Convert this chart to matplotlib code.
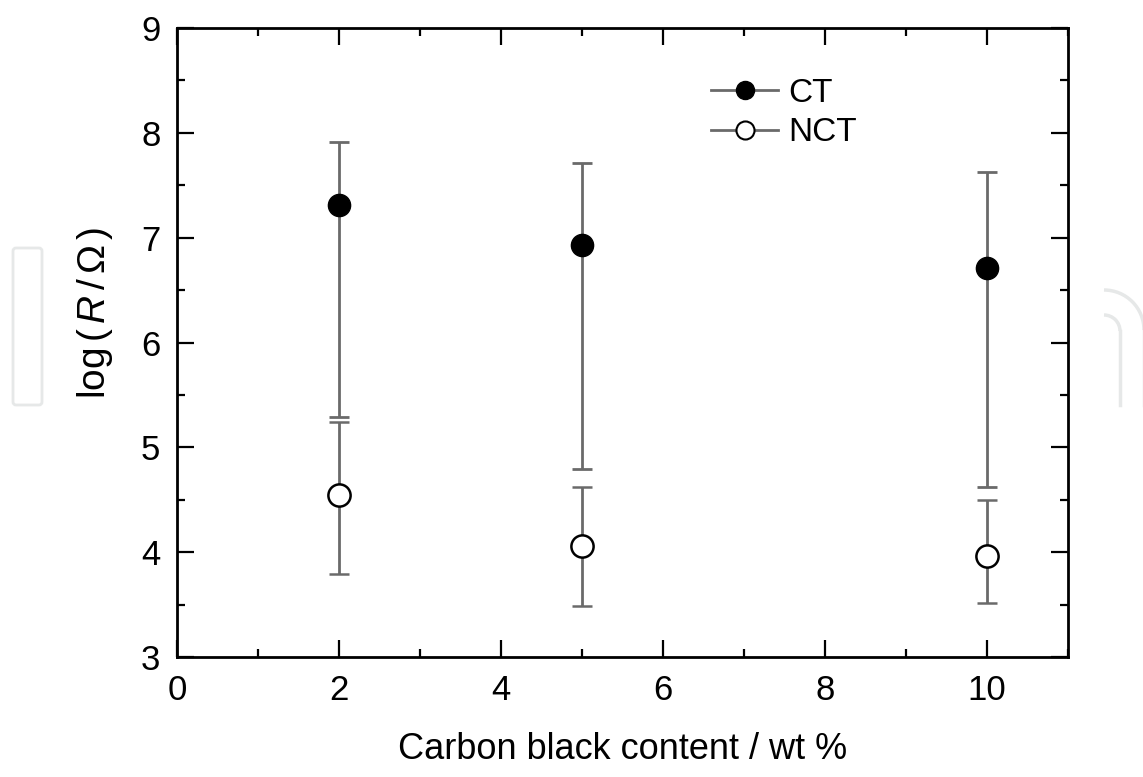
# log(R/Ohm) vs carbon black content, CT and NCT with error bars

import matplotlib
matplotlib.use('Agg')
import matplotlib.pyplot as plt
from matplotlib.patches import FancyBboxPatch, Arc
from matplotlib.ticker import MultipleLocator

plt.rcParams['font.family'] = ['Liberation Sans', 'DejaVu Sans']
plt.rcParams['mathtext.fontset'] = 'custom'
plt.rcParams['mathtext.it'] = 'Liberation Sans:italic'
plt.rcParams['mathtext.rm'] = 'Liberation Sans'

content = [2, 5, 10]

ct_mean = [7.31, 6.93, 6.71]
ct_upper = [7.91, 7.71, 7.63]
ct_lower = [5.29, 4.79, 4.62]

nct_mean = [4.55, 4.06, 3.96]
nct_upper = [5.24, 4.62, 4.50]
nct_lower = [3.79, 3.49, 3.52]


def asym(mean, lower, upper):
    lo = [m - l for m, l in zip(mean, lower)]
    hi = [u - m for m, u in zip(mean, upper)]
    return [lo, hi]


fig = plt.figure(figsize=(11.43, 7.77), dpi=100)

# faint watermark shapes behind everything, in pixel coords
bg = fig.add_axes([0, 0, 1, 1], zorder=-1)
bg.set_xlim(0, 1143)
bg.set_ylim(777, 0)
bg.axis('off')
wm = '#e6e8e8'
bg.add_patch(FancyBboxPatch((13, 248), 29, 157, boxstyle='round,pad=0,rounding_size=3',
                            fill=False, ec=wm, lw=2))
bg.add_patch(Arc((1104, 330), 80, 80, theta1=270, theta2=360, ec=wm, lw=2.5))
bg.plot([1144, 1144], [330, 405], color=wm, lw=2.5)
bg.add_patch(Arc((1104, 331), 32, 32, theta1=270, theta2=360, ec=wm, lw=2.5))
bg.plot([1120, 1120], [331, 405], color=wm, lw=2.5)

ax = fig.add_axes([0.1549, 0.1544, 0.7795, 0.8096])

bar_color = '#6a6a6a'
ax.errorbar(content, ct_mean, yerr=asym(ct_mean, ct_lower, ct_upper),
            fmt='o', color='black', ms=16, ecolor=bar_color, elinewidth=2,
            capsize=7, capthick=2, zorder=3)
ax.errorbar(content, nct_mean, yerr=asym(nct_mean, nct_lower, nct_upper),
            fmt='o', mfc='white', mec='black', mew=1.8, ms=16, ecolor=bar_color,
            elinewidth=2, capsize=7, capthick=2, zorder=3)

# legend handles: line with marker in the middle
h_ct, = ax.plot([], [], '-o', color=bar_color, lw=2, mfc='black', mec='black', ms=13)
h_nct, = ax.plot([], [], '-o', color=bar_color, lw=2, mfc='white', mec='black', mew=1.5, ms=13)
ax.legend([h_ct, h_nct], ['CT', 'NCT'], loc='upper left', bbox_to_anchor=(0.581, 0.947),
          frameon=False, fontsize=24, handlelength=2.0, handletextpad=0.3,
          labelspacing=0.25, borderpad=0)

ax.set_xlim(0, 11)
ax.set_ylim(3, 9)
ax.xaxis.set_major_locator(MultipleLocator(2))
ax.xaxis.set_minor_locator(MultipleLocator(1))
ax.yaxis.set_major_locator(MultipleLocator(1))
ax.yaxis.set_minor_locator(MultipleLocator(0.5))
ax.tick_params(which='both', direction='in', top=True, right=True, width=1.6)
ax.tick_params(which='major', length=12, labelsize=25)
ax.tick_params(which='minor', length=6)
ax.tick_params(axis='x', pad=12)
ax.tick_params(axis='y', pad=12)
for s in ax.spines.values():
    s.set_linewidth(2)

ax.set_xlabel('Carbon black content / wt %', fontsize=26, labelpad=18)
ax.set_ylabel(r'log$\,$($\,R\,$/$\,\Omega\,$)', fontsize=28, labelpad=18)
ax.yaxis.set_label_coords(-0.07, 0.547)

fig.savefig('out.png', dpi=100)
